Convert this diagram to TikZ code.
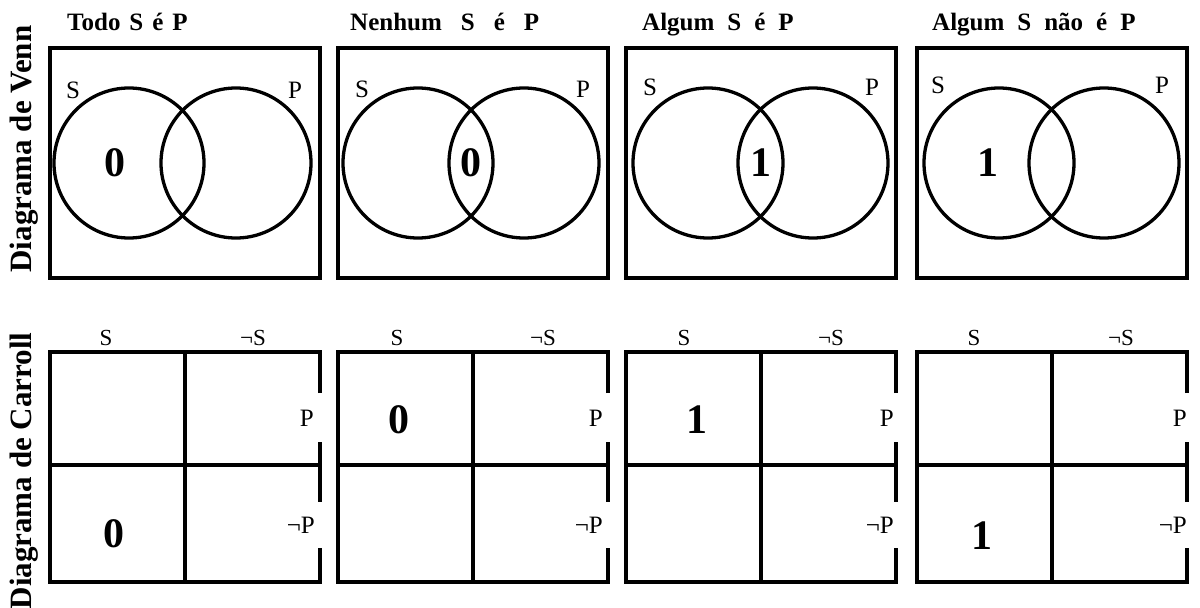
\documentclass[tikz,border=0pt]{standalone}
\usepackage{fontspec}
\setmainfont{Liberation Serif}
\usepackage{tikz}
\usetikzlibrary{positioning}

\begin{document}
\begin{tikzpicture}[
  x=1pt, y=-1pt,
  frame/.style={rectangle, draw, line width=4pt, minimum width=270pt,
    minimum height=230pt, inner sep=0pt},
  setring/.style={circle, draw, line width=3.3pt, minimum size=150pt, inner sep=0pt},
  title/.style={anchor=base west, inner sep=0pt, font=\fontsize{25}{29}\selectfont\bfseries},
  side/.style={rotate=90, inner sep=0pt, font=\fontsize{31}{35}\selectfont\bfseries},
  setname/.style={inner sep=0pt, font=\fontsize{25}{29}\selectfont},
  head/.style={inner sep=0pt, font=\fontsize{23}{27}\selectfont},
  rowname/.style={anchor=east, inner sep=0pt, font=\fontsize{25}{29}\selectfont},
  digit/.style={inner sep=0pt, font=\fontsize{42}{46}\selectfont\bfseries},
  cell/.style={line width=4pt}
]
\useasboundingbox (0,0) rectangle (1200,608);

% row labels
\node[side] (vennrow) at (24,149) {Diagrama de Venn};
\node[side] (carrollrow) at (24,471) {Diagrama de Carroll};

% Todo S e P
\begin{scope}[shift={(50,0)}]
\node[title] (t1) at (17,30) {Todo\hspace{9pt}S\hspace{9pt}é\hspace{9pt}P};
\node[frame] (venn1) at (135,163) {};
\node[setring] (s1) at (79,163) {};
\node[setring] (p1) at (186,163) {};
\node[setname] (sl1) at (23,90) {S};
\node[setname] (pl1) at (245,90) {P};
\node[digit] (m1) at (65,163) {0};
\draw[cell] (270,393) |- (0,352) |- (270,582) -- (270,548);
\draw[cell] (270,442) -- (270,502);
\draw[cell] (135,352) -- (135,582);
\draw[cell] (0,465) -- (270,465);
\node[head] (cs1) at (56,338) {S};
\node[head] (cn1) at (203,338) {¬S};
\node[rowname] (cp1) at (264,418) {P};
\node[rowname] (cq1) at (265,525) {¬P};
\node[digit] (k1) at (64,534) {0};
\end{scope}

% Nenhum S e P
\begin{scope}[shift={(338,0)}]
\node[title] (t2) at (12,30) {Nenhum\hspace{19pt}S\hspace{19pt}é\hspace{19pt}P};
\node[frame] (venn2) at (135,163) {};
\node[setring] (s2) at (80,163) {};
\node[setring] (p2) at (186,163) {};
\node[setname] (sl2) at (24,89) {S};
\node[setname] (pl2) at (245,89) {P};
\node[digit] (m2) at (133,163) {0};
\draw[cell] (270,393) |- (0,352) |- (270,582) -- (270,548);
\draw[cell] (270,442) -- (270,502);
\draw[cell] (135,352) -- (135,582);
\draw[cell] (0,465) -- (270,465);
\node[head] (cs2) at (59,338) {S};
\node[head] (cn2) at (205,338) {¬S};
\node[rowname] (cp2) at (265,418) {P};
\node[rowname] (cq2) at (265,525) {¬P};
\node[digit] (k2) at (61,420) {0};
\end{scope}

% Algum S e P
\begin{scope}[shift={(626,0)}]
\node[title] (t3) at (16,30) {Algum\hspace{13pt}S\hspace{13pt}é\hspace{13pt}P};
\node[frame] (venn3) at (135,163) {};
\node[setring] (s3) at (82,163) {};
\node[setring] (p3) at (187,163) {};
\node[setname] (sl3) at (24,87) {S};
\node[setname] (pl3) at (246,87) {P};
\node[digit] (m3) at (135,163) {1};
\draw[cell] (270,393) |- (0,352) |- (270,582) -- (270,548);
\draw[cell] (270,442) -- (270,502);
\draw[cell] (135,352) -- (135,582);
\draw[cell] (0,465) -- (270,465);
\node[head] (cs3) at (58,338) {S};
\node[head] (cn3) at (205,338) {¬S};
\node[rowname] (cp3) at (268,418) {P};
\node[rowname] (cq3) at (268,525) {¬P};
\node[digit] (k3) at (71,420) {1};
\end{scope}

% Algum S nao e P
\begin{scope}[shift={(917,0)}]
\node[title] (t4) at (15,30) {Algum\hspace{13pt}S\hspace{13pt}não\hspace{13pt}é\hspace{13pt}P};
\node[frame] (venn4) at (135,163) {};
\node[setring] (s4) at (82,163) {};
\node[setring] (p4) at (187,163) {};
\node[setname] (sl4) at (21,85) {S};
\node[setname] (pl4) at (245,85) {P};
\node[digit] (m4) at (71,163) {1};
\draw[cell] (270,393) |- (0,352) |- (270,582) -- (270,548);
\draw[cell] (270,442) -- (270,502);
\draw[cell] (135,352) -- (135,582);
\draw[cell] (0,465) -- (270,465);
\node[head] (cs4) at (57,338) {S};
\node[head] (cn4) at (204,338) {¬S};
\node[rowname] (cp4) at (270,418) {P};
\node[rowname] (cq4) at (270,525) {¬P};
\node[digit] (k4) at (65,536) {1};
\end{scope}
\end{tikzpicture}
\end{document}
